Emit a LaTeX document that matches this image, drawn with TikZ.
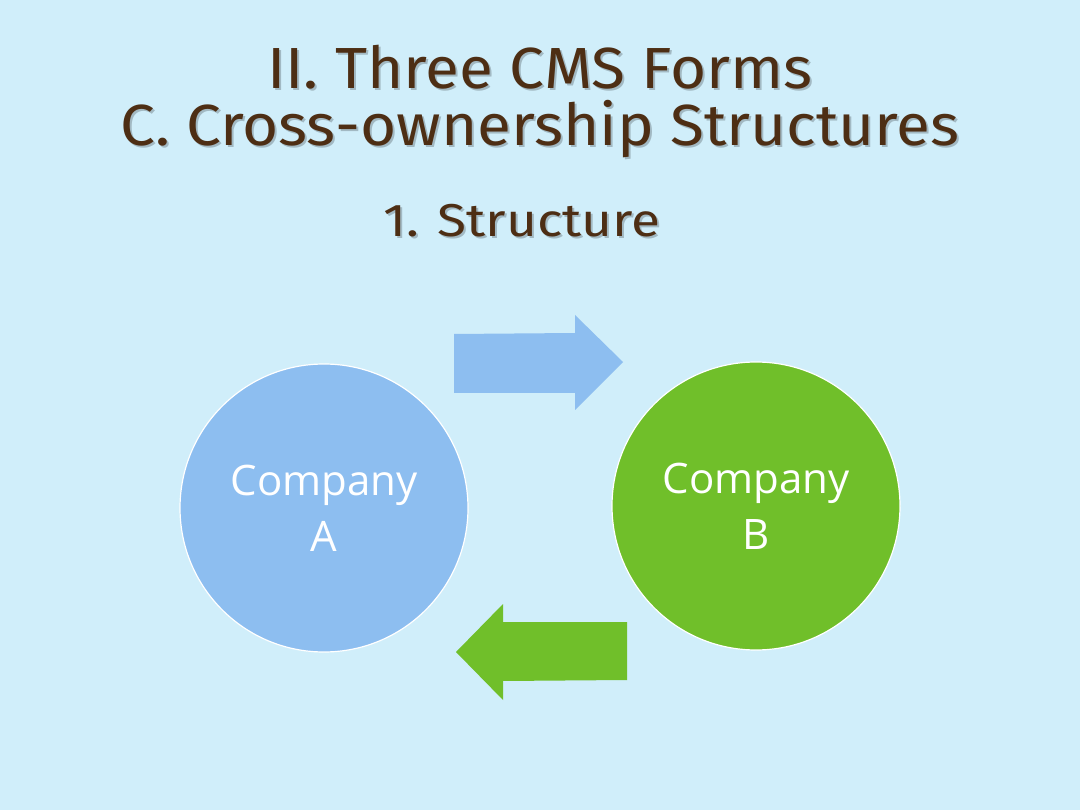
\documentclass[tikz,border=0pt]{standalone}
\usepackage{fontspec}
\setmainfont{Fira Sans}
\newfontfamily\circfont{Open Sans}
\definecolor{bgc}{RGB}{208,238,250}
\definecolor{blueA}{RGB}{141,190,240}
\definecolor{greenB}{RGB}{112,191,42}
\definecolor{titlec}{RGB}{77,46,20}
\begin{document}
\begin{tikzpicture}[x=1pt,y=-1pt,
  titletext/.style={text=titlec,font=\fontsize{58}{57}\selectfont,inner sep=0pt,xscale=1.07,align=center},
  shadowtext/.style={text=black,opacity=0.22,font=\fontsize{58}{57}\selectfont,inner sep=0pt,xscale=1.07,align=center},
  subfont/.style={font=\fontsize{46}{54}\selectfont,xscale=1.08},
  company/.style={circle,draw=white,line width=1.2pt,minimum size=288pt,inner sep=0pt,
    text=white,align=center,font=\circfont\fontsize{42}{56}\selectfont}]
\fill[bgc] (0,0) rectangle (1080,810);
\useasboundingbox (0,0) rectangle (1080,810);
% title
\node[shadowtext] (t0) at (542,103) {II. Three CMS Forms\\C. Cross-ownership Structures};
\node[titletext] (t1) at (540,101) {II. Three CMS Forms\\C. Cross-ownership Structures};
\node[shadowtext,subfont] (t2) at (524,223) {1. Structure};
\node[titletext,subfont] (t3) at (522,221) {1. Structure};
% circles
\node[company,fill=blueA] (A) at (324,508) {Company\\A};
\node[company,fill=greenB] (B) at (756,506) {Company\\B};
% arrows
\fill[blueA] (454,334) -- (575,333) -- (575,315) -- (623,362) -- (575,410) -- (575,393) -- (454,393) -- cycle;
\fill[greenB] (627,622) -- (503,622) -- (503,604) -- (456,652) -- (503,700) -- (503,681) -- (627,680) -- cycle;
\end{tikzpicture}
\end{document}
